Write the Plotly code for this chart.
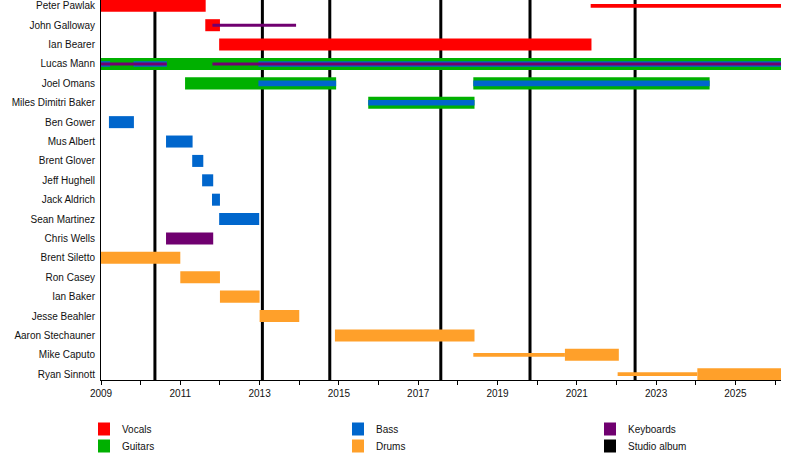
import plotly.graph_objects as go

members = ["Peter Pawlak", "John Galloway", "Ian Bearer", "Lucas Mann", "Joel Omans",
           "Miles Dimitri Baker", "Ben Gower", "Mus Albert", "Brent Glover", "Jeff Hughell",
           "Jack Aldrich", "Sean Martinez", "Chris Wells", "Brent Siletto", "Ron Casey",
           "Ian Baker", "Jesse Beahler", "Aaron Stechauner", "Mike Caputo", "Ryan Sinnott"]

start_year = 2009
today = 2026.15

# (member, start, end)
vocals = [("Peter Pawlak", 2009.0, 2011.64), ("John Galloway", 2011.63, 2012.0),
          ("Ian Bearer", 2011.98, 2021.37)]
vocals_touring = [("Peter Pawlak", 2021.35, today)]
guitars = [("Lucas Mann", 2009.0, today), ("Joel Omans", 2011.12, 2014.93),
           ("Joel Omans", 2018.39, 2024.35), ("Miles Dimitri Baker", 2015.74, 2018.42)]
bass = [("Ben Gower", 2009.2, 2009.83), ("Mus Albert", 2010.64, 2011.31),
        ("Brent Glover", 2011.3, 2011.58), ("Jeff Hughell", 2011.55, 2011.83),
        ("Jack Aldrich", 2011.8, 2012.0), ("Sean Martinez", 2011.98, 2012.99)]
bass_secondary = [("Lucas Mann", 2009.0, 2009.23), ("Lucas Mann", 2009.82, 2010.66),
                  ("Lucas Mann", 2012.97, today), ("Joel Omans", 2012.97, 2014.93),
                  ("Joel Omans", 2018.39, 2024.35), ("Miles Dimitri Baker", 2015.74, 2018.42)]
keyboards = [("Chris Wells", 2010.64, 2011.83)]
keyboards_secondary = [("John Galloway", 2011.81, 2013.92), ("Lucas Mann", 2009.0, 2010.66),
                       ("Lucas Mann", 2011.81, today)]
drums = [("Brent Siletto", 2009.0, 2011.0), ("Ron Casey", 2011.0, 2012.0),
         ("Ian Baker", 2012.0, 2013.0), ("Jesse Beahler", 2013.0, 2014.0),
         ("Aaron Stechauner", 2014.9, 2018.42), ("Mike Caputo", 2020.7, 2022.06),
         ("Ryan Sinnott", 2024.04, today)]
drums_touring = [("Mike Caputo", 2018.39, 2020.7), ("Ryan Sinnott", 2022.03, 2024.04)]

albums = [2010.36, 2013.07, 2014.77, 2017.57, 2019.82, 2022.47]

colors = {"Vocals": "#FF0000", "Guitars": "#00B000", "Bass": "#0066CC",
          "Drums": "#FFA02A", "Keyboards": "#700070", "Studio album": "#000000"}

FULL, MID, THIN, HAIR = 0.62, 0.29, 0.19, 0.16

layers = [
    (vocals, "Vocals", FULL), (guitars, "Guitars", FULL), (bass, "Bass", FULL),
    (drums, "Drums", FULL), (keyboards, "Keyboards", FULL),
    (vocals_touring, "Vocals", THIN), (drums_touring, "Drums", THIN),
    (bass_secondary, "Bass", MID), (keyboards_secondary, "Keyboards", HAIR),
]

fig = go.Figure()
for segs, role, w in layers:
    fig.add_trace(go.Bar(
        y=[s[0] for s in segs], base=[s[1] for s in segs],
        x=[s[2] - s[1] for s in segs], orientation="h", width=w,
        marker=dict(color=colors[role], line_width=0),
        showlegend=False, hoverinfo="skip"))

for a in albums:
    fig.add_shape(type="line", x0=a, x1=a, y0=0, y1=1, xref="x", yref="paper",
                  line=dict(color="black", width=3), layer="below")

# legend drawn by hand: three columns of two
L, R, T, B = 101, 781, 0, 380
px = lambda p: (p - L) / (R - L)
py = lambda p: (B - p) / (B - T)
legend_cols = [(98, ["Vocals", "Guitars"]), (352, ["Bass", "Drums"]),
               (604, ["Keyboards", "Studio album"])]
for x0, names in legend_cols:
    for i, name in enumerate(names):
        yc = 429 + i * 17
        fig.add_shape(type="rect", xref="paper", yref="paper",
                      x0=px(x0), x1=px(x0 + 12), y0=py(yc - 6.5), y1=py(yc + 6.5),
                      fillcolor=colors[name], line_width=0)
        fig.add_annotation(x=px(x0 + 22), y=py(yc), xref="paper", yref="paper",
                           text=name, showarrow=False, xanchor="left", yanchor="middle",
                           font=dict(size=10, color="#111"))

fig.update_layout(
    width=800, height=470, barmode="overlay",
    margin=dict(l=L, r=800 - R, t=T, b=470 - B),
    plot_bgcolor="white", paper_bgcolor="white",
    font=dict(family="Liberation Sans, Arial, sans-serif", size=10, color="#111"),
    xaxis=dict(range=[start_year, today], tick0=start_year, dtick=2, ticks="outside",
               ticklen=4, tickcolor="black", showline=True, linecolor="black",
               showgrid=False, zeroline=False, tickformat="d",
               minor=dict(dtick=1, ticks="outside", ticklen=4, tickcolor="black", showgrid=False)),
    yaxis=dict(categoryorder="array", categoryarray=members, range=[19.3, -0.3],
               showline=True, linecolor="black", showgrid=False, ticks="outside",
               ticklen=3, tickcolor="rgba(0,0,0,0)"),
)

# page body has an 8px default margin; drop it so the figure sits at the window corner
fig.write_html("out.html", config={"displayModeBar": False, "staticPlot": True},
               post_script="document.body.style.margin='0px';")
